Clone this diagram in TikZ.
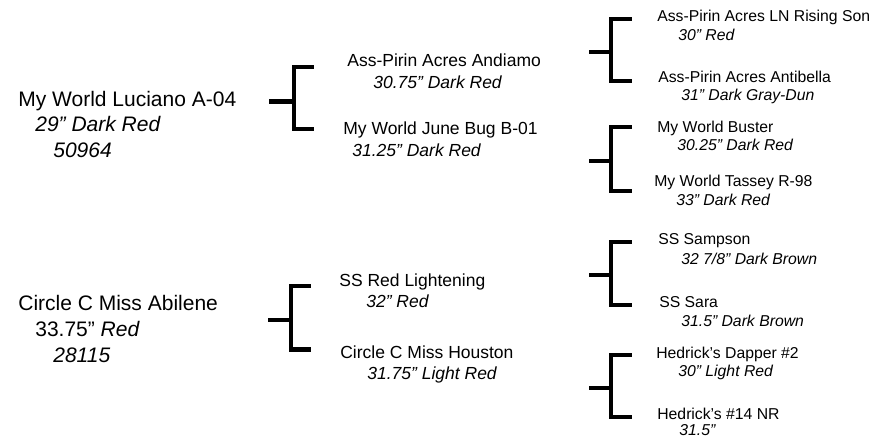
\documentclass[tikz,border=0pt]{standalone}
\usepackage{fontspec}
\setmainfont{Liberation Sans}
\begin{document}
\begin{tikzpicture}[
    x=0.5714pt, y=-0.5714pt,
    horse/.style={inner sep=0pt, anchor=base west},
    name0/.style={horse, font=\fontsize{12}{14}\selectfont},
    note0/.style={horse, font=\fontsize{12}{14}\selectfont\itshape},
    name1/.style={horse, font=\fontsize{10}{12}\selectfont},
    note1/.style={horse, font=\fontsize{10}{12}\selectfont\itshape},
    name2/.style={horse, font=\fontsize{9}{11}\selectfont},
    note2/.style={horse, font=\fontsize{9}{11}\selectfont\itshape},
    bracket/.style={line width=2.3pt}
]
    \useasboundingbox (0,0) rectangle (875,437);

    % first pedigree
    \node[name0] (luciano) at (18,106.7) {My World Luciano A-04};
    \node[note0] (luciano-ht) at (35,131.7) {29” Dark Red};
    \node[note0] (luciano-reg) at (53,157.7) {50964};

    \node[name1] (andiamo) at (347,66.7) {Ass-Pirin Acres Andiamo};
    \node[note1] (andiamo-ht) at (373,88.3) {30.75” Dark Red};
    \node[name1] (junebug) at (343,134.3) {My World June Bug B-01};
    \node[note1] (junebug-ht) at (352,156.7) {31.25” Dark Red};

    \node[name2] (risingson) at (657,21.7) {Ass-Pirin Acres LN Rising Son};
    \node[note2] (risingson-ht) at (678,40) {30” Red};
    \node[name2] (antibella) at (658,82.7) {Ass-Pirin Acres Antibella};
    \node[note2] (antibella-ht) at (681,100.7) {31” Dark Gray-Dun};
    \node[name2] (buster) at (657,132.7) {My World Buster};
    \node[note2] (buster-ht) at (677,150) {30.25” Dark Red};
    \node[name2] (tassey) at (654,186.7) {My World Tassey R-98};
    \node[note2] (tassey-ht) at (676,205) {33” Dark Red};

    % second pedigree
    \node[name0] (abilene) at (18,310) {Circle C Miss Abilene};
    \node[name0] (abilene-ht) at (35,336.7) {33.75” \itshape Red};
    \node[note0] (abilene-reg) at (53,362.3) {28115};

    \node[name1] (lightening) at (339,286.7) {SS Red Lightening};
    \node[note1] (lightening-ht) at (366,307.7) {32” Red};
    \node[name1] (houston) at (340,358.3) {Circle C Miss Houston};
    \node[note1] (houston-ht) at (367,379.3) {31.75” Light Red};

    \node[name2] (sampson) at (658,244) {SS Sampson};
    \node[note2] (sampson-ht) at (681,264) {32 7/8” Dark Brown};
    \node[name2] (sara) at (659,307.3) {SS Sara};
    \node[note2] (sara-ht) at (681,326) {31.5” Dark Brown};
    \node[name2] (dapper) at (656,358.3) {Hedrick’s Dapper \#2};
    \node[note2] (dapper-ht) at (678,376.7) {30” Light Red};
    \node[name2] (nr14) at (657,419.3) {Hedrick’s \#14 NR};
    \node[note2] (nr14-ht) at (679,435.5) {31.5”};

    % brackets: stem, middle, top arm, bottom arm
    \coordinate (luc-s) at (269.3,101.5);  \coordinate (luc-m) at (294,101.5);
    \coordinate (luc-t) at (313.7,66.7);   \coordinate (luc-b) at (313.7,129.3);
    \coordinate (and-s) at (589.3,51.7);   \coordinate (and-m) at (611.3,51.7);
    \coordinate (and-t) at (631.7,18.7);   \coordinate (and-b) at (631.7,81);
    \coordinate (jun-s) at (589.3,160.8);  \coordinate (jun-m) at (611.3,160.8);
    \coordinate (jun-t) at (631.7,127);    \coordinate (jun-b) at (631.7,191.3);
    \coordinate (abi-s) at (268.3,320);    \coordinate (abi-m) at (291,320);
    \coordinate (abi-t) at (310.7,286);    \coordinate (abi-b) at (310.7,349.5);
    \coordinate (lig-s) at (589.3,275);    \coordinate (lig-m) at (611.3,275);
    \coordinate (lig-t) at (631.7,242);    \coordinate (lig-b) at (631.7,305);
    \coordinate (hou-s) at (589.3,387.5);  \coordinate (hou-m) at (611.3,387.5);
    \coordinate (hou-t) at (631.7,354.7);  \coordinate (hou-b) at (631.7,417);

    \foreach \k in {luc,and,jun,abi,lig,hou} {
        \draw[bracket] (\k-s) -- (\k-m);
        \draw[bracket] (\k-t) -| (\k-m) |- (\k-b);
    }
\end{tikzpicture}
\end{document}
